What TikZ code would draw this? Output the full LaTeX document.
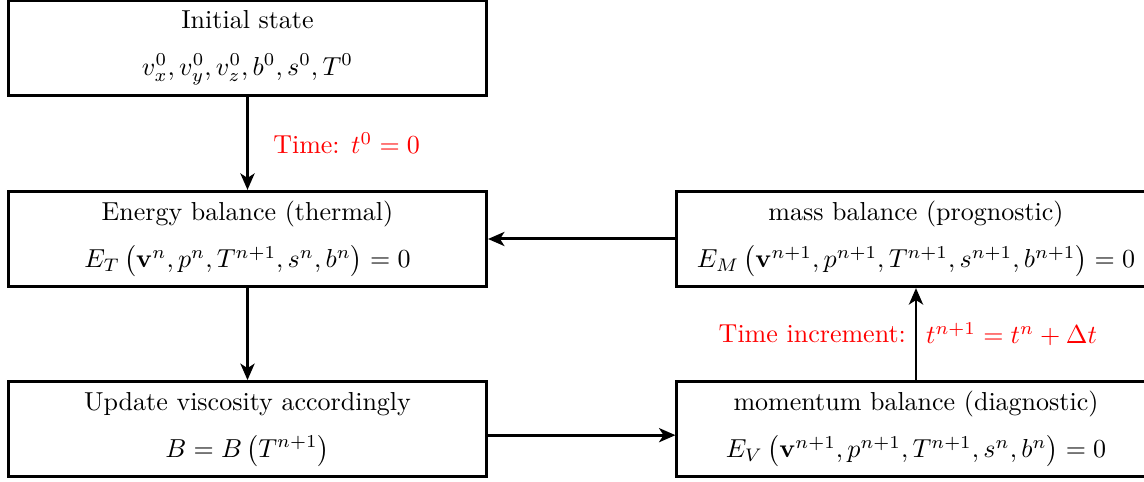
\documentclass[tikz,border=0pt]{standalone}
\usetikzlibrary{arrows.meta}
\begin{document}
\begin{tikzpicture}[x=0.3846pt,y=-0.3846pt,
  stagebox/.style={draw,line width=1.15pt,minimum width=183.85pt,minimum height=36.6pt,align=center,inner sep=0pt},
  flow/.style={line width=1.15pt,-{Stealth[length=6.3pt,width=5.4pt,inset=1.7pt]}},
  note/.style={text=red}]
\useasboundingbox (0,0) rectangle (1144,482);
\node[stagebox] (init) at (247.5,48) {Initial state\\[6pt]$v_x^0, v_y^0, v_z^0, b^0, s^0, T^0$};
\node[stagebox] (energy) at (247.5,239) {Energy balance (thermal)\\[6pt]$E_T\left(\mathbf{v}^n, p^n, T^{n+1}, s^n, b^n\right) = 0$};
\node[stagebox] (update) at (247.5,429.2) {Update viscosity accordingly\\[6pt]$B = B\left(T^{n+1}\right)$};
\node[stagebox] (mass) at (916,239) {mass balance (prognostic)\\[6pt]$E_M\left(\mathbf{v}^{n+1}, p^{n+1}, T^{n+1}, s^{n+1}, b^{n+1}\right) = 0$};
\node[stagebox] (mom) at (916,429.2) {momentum balance (diagnostic)\\[6pt]$E_V\left(\mathbf{v}^{n+1}, p^{n+1}, T^{n+1}, s^n, b^n\right) = 0$};
\draw[flow] (init) -- node[note,right=6pt] {Time: $t^0 = 0$} (energy);
\draw[flow] (energy) -- (update);
\draw[flow] ([yshift=-2.3pt]update.east) -- ([yshift=-2.3pt]mom.west);
\draw[flow] (mom) -- node[note,left] {Time increment:} node[note,right] {$t^{n+1} = t^n + \Delta t$} (mass);
\draw[flow] (mass) -- (energy);
\end{tikzpicture}
\end{document}
